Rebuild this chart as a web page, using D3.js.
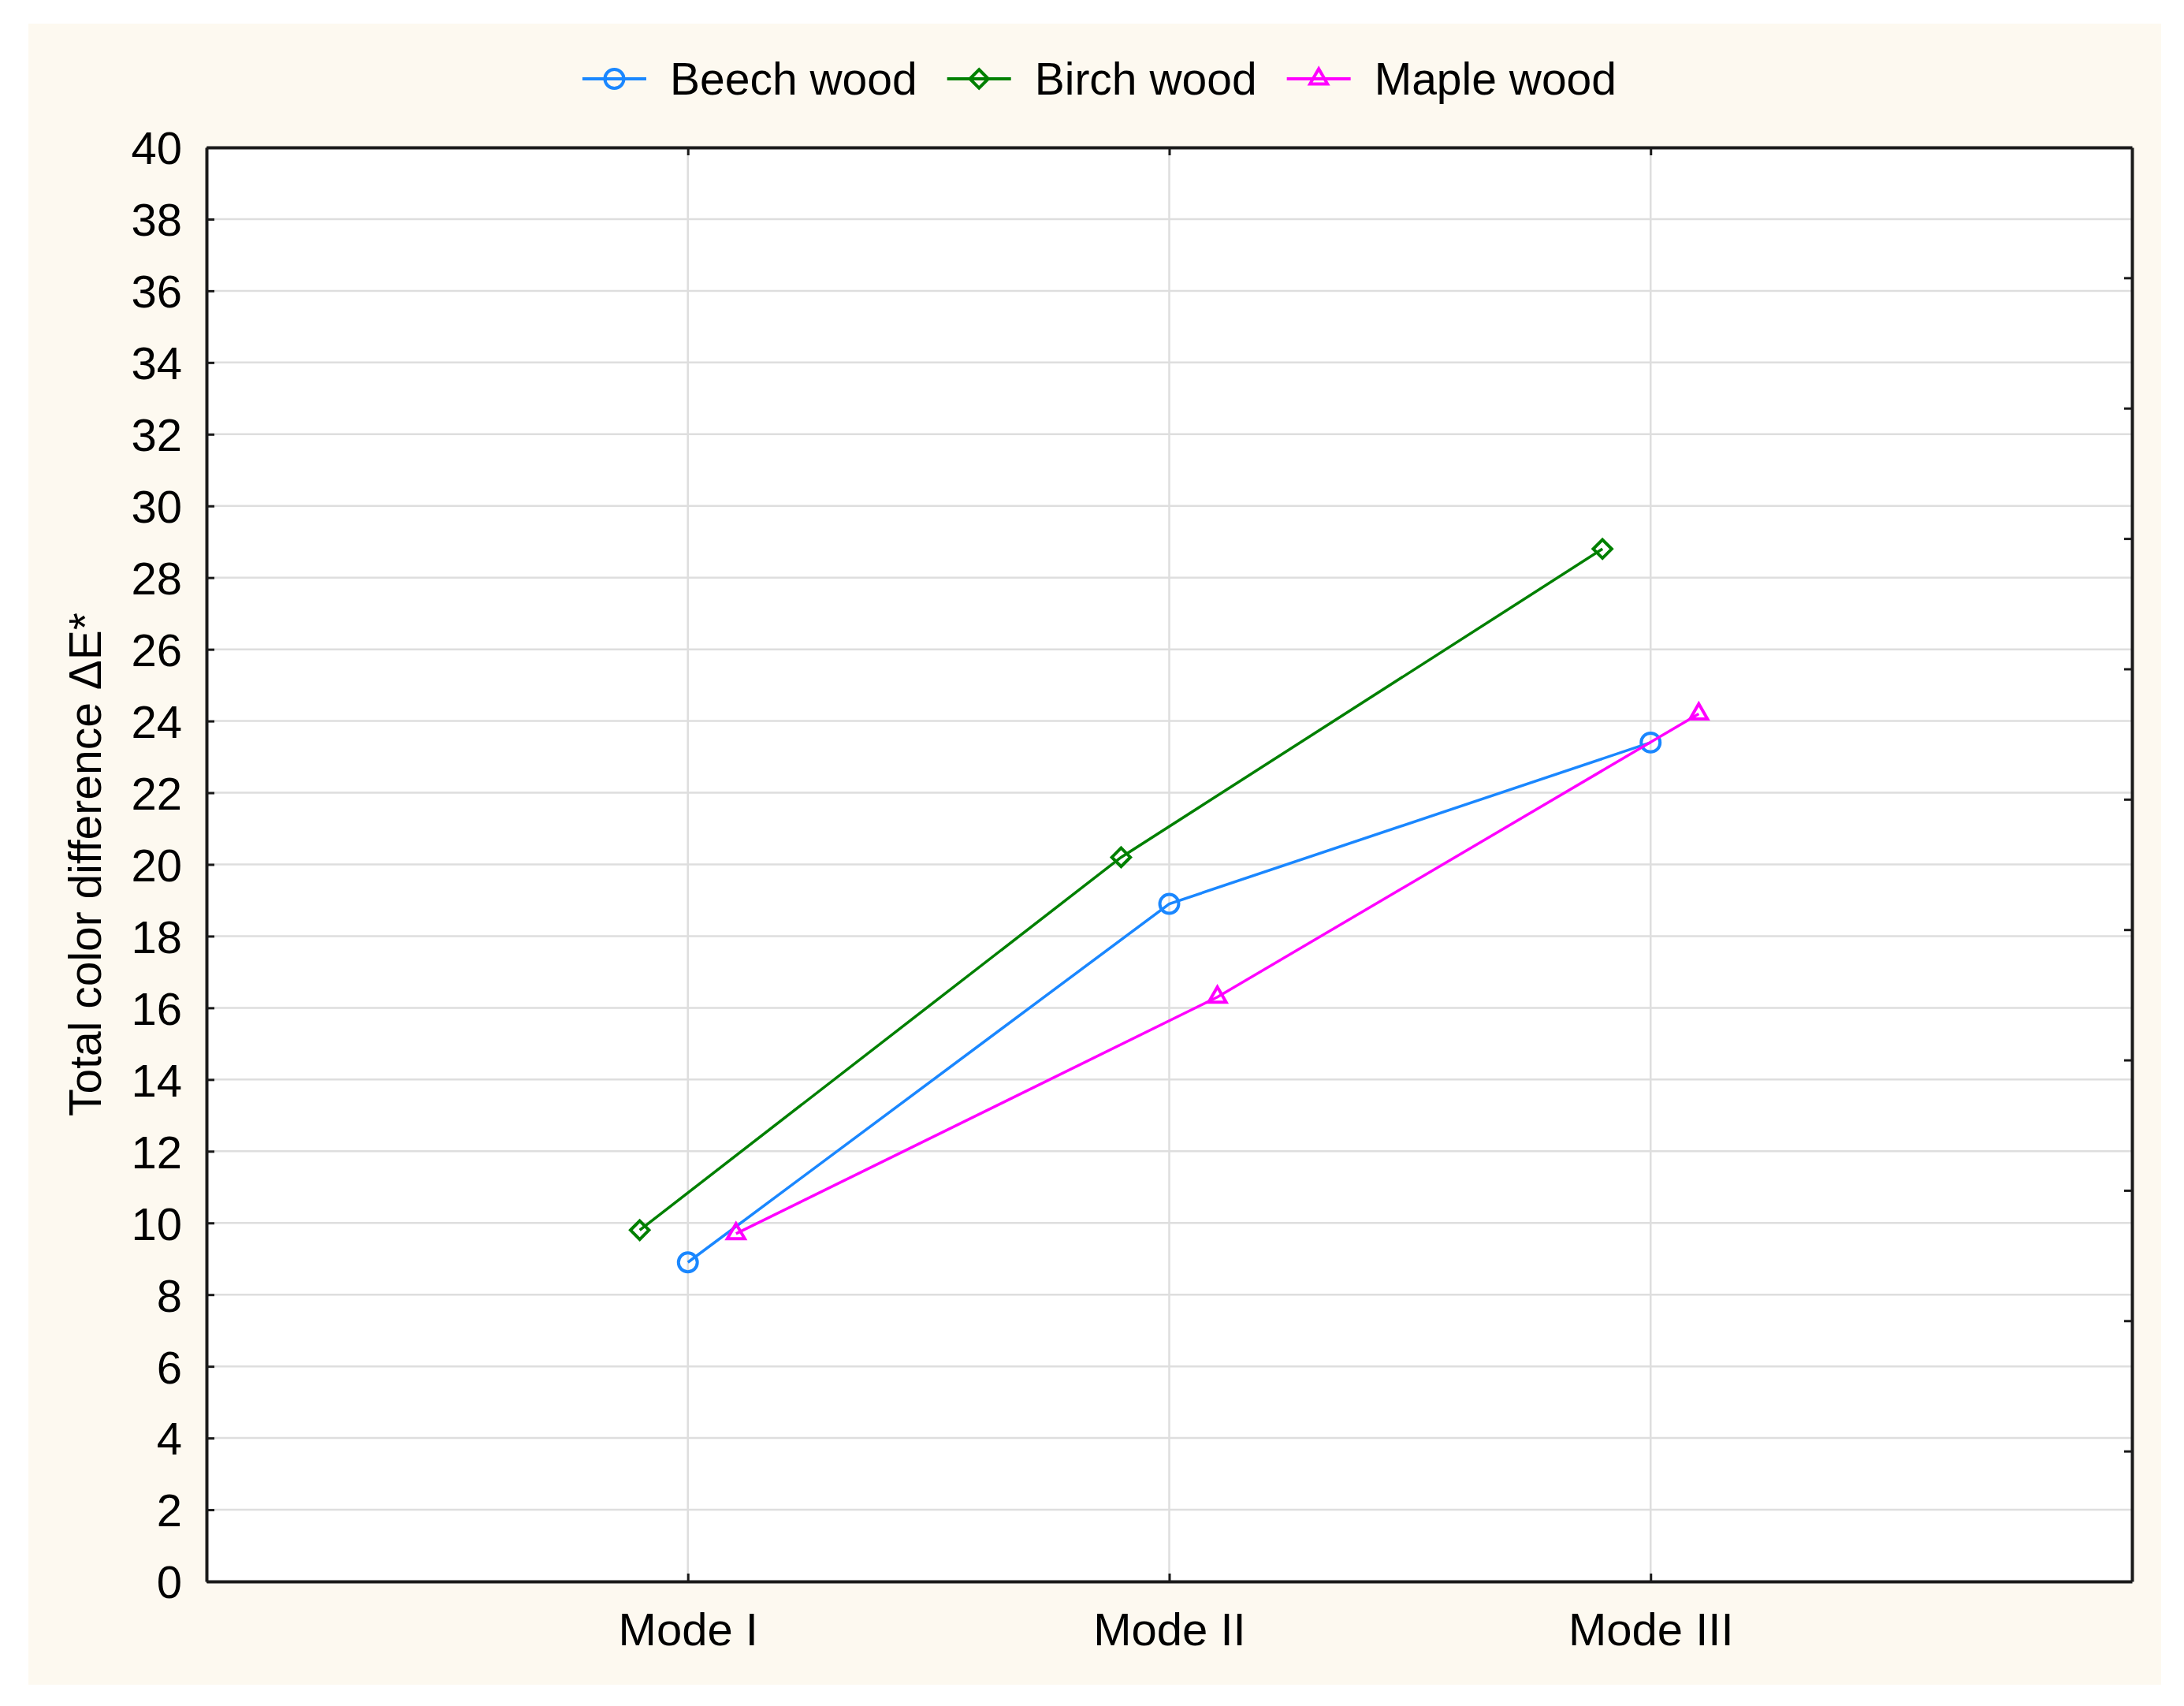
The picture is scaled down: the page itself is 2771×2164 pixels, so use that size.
<!DOCTYPE html>
<html>
<head>
<meta charset="utf-8">
<script src="https://cdn.jsdelivr.net/npm/d3@7"></script>
<style>
  body { margin: 0; background: #ffffff; }
  svg { display: block; }
  text { font-family: "Liberation Sans", Arial, sans-serif; fill: #000; }
</style>
</head>
<body>
<div id="chart"></div>
<script>
// chart values
var modes = ["Mode I", "Mode II", "Mode III"];
var seriesNames = ["Beech wood", "Birch wood", "Maple wood"];
var beechValues = [8.9, 18.9, 23.4];
var birchValues = [9.8, 20.2, 28.8];
var mapleValues = [9.7, 16.3, 24.2];
var seriesOffsets = [0, -0.1, 0.1];   // horizontal jitter in category units
var seriesColors = ["#1a87ff", "#008000", "#ff00ff"];
var seriesSymbols = ["circle", "diamond", "triangle"];
var yTicks = d3.range(0, 41, 2);
var rightTickCount = 11;

var W = 2771, H = 2164;
var margin = { left: 262, right: 2705, top: 187, bottom: 2006 };

var svg = d3.select("#chart").append("svg")
    .attr("width", W)
    .attr("height", H);

// beige panel
svg.append("rect")
    .attr("x", 36).attr("y", 30)
    .attr("width", 2742 - 36).attr("height", 2137 - 30)
    .attr("fill", "#fdf9f0");

svg.append("rect")
    .attr("x", margin.left).attr("y", margin.top)
    .attr("width", margin.right - margin.left)
    .attr("height", margin.bottom - margin.top)
    .attr("fill", "#ffffff");

var x = d3.scaleLinear()
    .domain([0, modes.length + 1])
    .range([margin.left, margin.right]);

var y = d3.scaleLinear()
    .domain([0, 40])
    .range([margin.bottom, margin.top]);

var yRight = d3.scaleLinear()
    .domain([0, rightTickCount])
    .range([margin.bottom, margin.top]);

var g = svg.append("g");

// gridlines
g.append("g")
    .selectAll("line.hgrid")
    .data(yTicks)
    .enter().append("line")
    .attr("class", "hgrid")
    .attr("x1", margin.left).attr("x2", margin.right)
    .attr("y1", function(d) { return y(d); })
    .attr("y2", function(d) { return y(d); })
    .attr("stroke", "#dedede")
    .attr("stroke-width", 2.5);

g.append("g")
    .selectAll("line.vgrid")
    .data(modes)
    .enter().append("line")
    .attr("class", "vgrid")
    .attr("x1", function(d, i) { return x(i + 1); })
    .attr("x2", function(d, i) { return x(i + 1); })
    .attr("y1", margin.top).attr("y2", margin.bottom)
    .attr("stroke", "#dedede")
    .attr("stroke-width", 2.5);

// axes
var leftAxis = d3.axisLeft(y).tickValues(yTicks).tickSizeInner(-10).tickSizeOuter(0).tickPadding(31);
var bottomAxis = d3.axisBottom(x).tickValues([1, 2, 3])
    .tickFormat(function(d) { return modes[d - 1]; })
    .tickSizeInner(-10).tickSizeOuter(0).tickPadding(40);
var topAxis = d3.axisTop(x).tickValues([1, 2, 3]).tickFormat("").tickSizeInner(-10).tickSizeOuter(0);
var rightAxis = d3.axisRight(yRight).ticks(rightTickCount).tickFormat("").tickSizeInner(-10).tickSizeOuter(0);

function styleAxis(sel) {
    sel.select(".domain").attr("stroke", "#1a1a1a").attr("stroke-width", 4);
    sel.selectAll(".tick line").attr("stroke", "#1a1a1a").attr("stroke-width", 3);
    sel.selectAll(".tick text")
        .attr("font-size", 58)
        .attr("font-family", "Liberation Sans, Arial, sans-serif")
        .attr("fill", "#000");
}

svg.append("g")
    .attr("transform", "translate(" + margin.left + ",0)")
    .call(leftAxis)
    .call(styleAxis)
    .selectAll(".tick text").attr("dy", "0.36em");

svg.append("g")
    .attr("transform", "translate(0," + margin.bottom + ")")
    .call(bottomAxis)
    .call(styleAxis);

svg.append("g")
    .attr("transform", "translate(0," + margin.top + ")")
    .call(topAxis)
    .call(styleAxis);

svg.append("g")
    .attr("transform", "translate(" + margin.right + ",0)")
    .call(rightAxis)
    .call(styleAxis)
    .selectAll(".tick").filter(function(d) { return d === 0 || d === rightTickCount; }).remove();

// y title
svg.append("text")
    .attr("transform", "translate(128," + ((margin.top + margin.bottom) / 2) + ") rotate(-90)")
    .attr("text-anchor", "middle")
    .attr("font-size", 57)
    .text("Total color difference \u0394E*");

// series
var allValues = [beechValues, birchValues, mapleValues];

var symbolTypes = {
    circle: d3.symbolCircle,
    diamond: d3.symbolDiamond2,
    triangle: d3.symbolTriangle2
};
var symbolSizes = { circle: 450, diamond: 350, triangle: 350 };

function drawMarker(sel, kind, color) {
    sel.append("path")
        .attr("d", d3.symbol().type(symbolTypes[kind]).size(symbolSizes[kind])())
        .attr("fill", "none")
        .attr("stroke", color)
        .attr("stroke-width", 4);
}

var line = d3.line()
    .x(function(d) { return x(d.i + 1 + d.off); })
    .y(function(d) { return y(d.v); });

allValues.forEach(function(vals, s) {
    var pts = vals.map(function(v, i) { return { i: i, v: v, off: seriesOffsets[s] }; });
    svg.append("path")
        .datum(pts)
        .attr("d", line)
        .attr("fill", "none")
        .attr("stroke", seriesColors[s])
        .attr("stroke-width", 3.5);

    pts.forEach(function(p) {
        var m = svg.append("g")
            .attr("transform", "translate(" + x(p.i + 1 + p.off) + "," + y(p.v) + ")");
        drawMarker(m, seriesSymbols[s], seriesColors[s]);
    });
});

// legend
var legend = svg.append("g").attr("transform", "translate(0,100)");
var lineLen = 81, textGap = 30, itemGap = 38;
var items = [];
var cursor = 0;
seriesNames.forEach(function(name, s) {
    var item = legend.append("g");
    item.append("line")
        .attr("x1", 0).attr("x2", lineLen)
        .attr("y1", 0).attr("y2", 0)
        .attr("stroke", seriesColors[s])
        .attr("stroke-width", 4);
    var m = item.append("g").attr("transform", "translate(" + (lineLen / 2) + ",0)");
    drawMarker(m, seriesSymbols[s], seriesColors[s]);
    var t = item.append("text")
        .attr("x", lineLen + textGap)
        .attr("y", 0)
        .attr("dy", "0.35em")
        .attr("font-size", 57)
        .text(name);
    var w = lineLen + textGap + t.node().getComputedTextLength();
    items.push({ node: item, x: cursor });
    cursor += w + itemGap;
});
var totalW = cursor - itemGap;
var legendStart = 1395 - totalW / 2;
items.forEach(function(it) {
    it.node.attr("transform", "translate(" + (legendStart + it.x) + ",0)");
});
</script>
</body>
</html>
